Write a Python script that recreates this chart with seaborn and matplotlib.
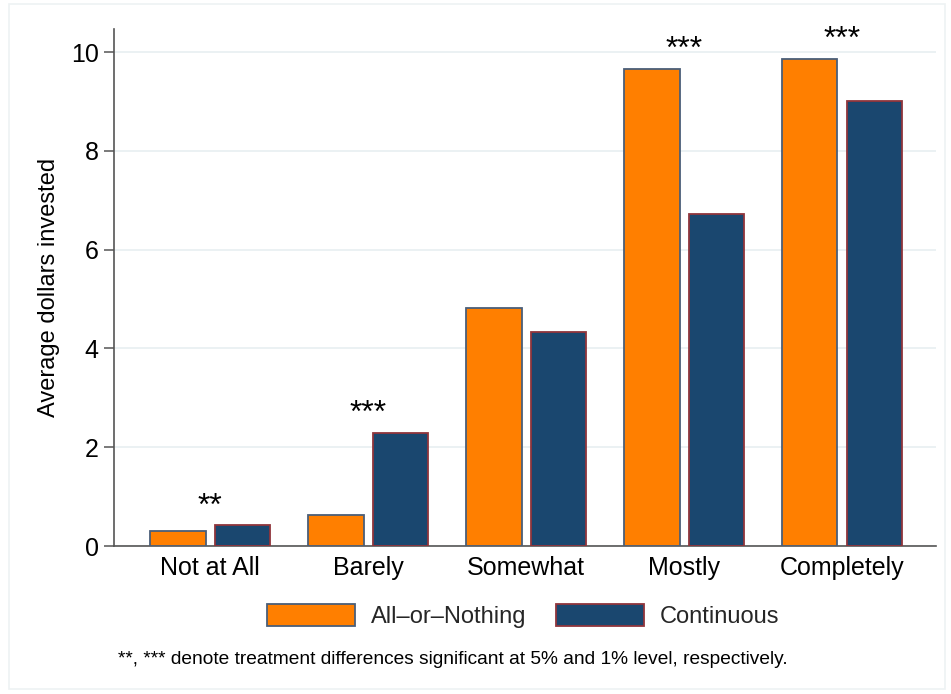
import matplotlib
matplotlib.use("Agg")
import matplotlib.pyplot as plt
from matplotlib.patches import Patch, Rectangle
import seaborn as sns
import pandas as pd

# Survey response categories and average investment by treatment
categories = ["Not at All", "Barely", "Somewhat", "Mostly", "Completely"]
all_or_nothing = [0.31, 0.63, 4.82, 9.66, 9.86]
continuous = [0.42, 2.29, 4.33, 6.72, 9.01]
significance = ["**", "***", "", "***", "***"]
treatments = ["All\u2013or\u2013Nothing", "Continuous"]
footnote = "**, *** denote treatment differences significant at 5% and 1% level, respectively."

fill_colors = ["#ff7f00", "#1a476f"]
edge_colors = ["#4a5e78", "#90353b"]

df = pd.DataFrame({
    "category": categories * 2,
    "value": all_or_nothing + continuous,
    "treatment": [treatments[0]] * len(categories) + [treatments[1]] * len(categories),
})

sns.set_theme(style="white")
plt.rcParams["font.family"] = ["Liberation Sans", "DejaVu Sans"]

fig = plt.figure(figsize=(9.51, 6.94), dpi=100)
ax = fig.add_axes([114 / 951, 1 - 546 / 694, (936 - 114) / 951, (546 - 29) / 694])

sns.barplot(data=df, x="category", y="value", hue="treatment", order=categories,
            hue_order=treatments, palette=fill_colors, width=0.816, gap=0.14,
            linewidth=1.3, saturation=1, legend=False, ax=ax, zorder=3)

for container, ec in zip(ax.containers, edge_colors):
    for bar in container:
        bar.set_edgecolor(ec)

# Significance markers above each pair
for i, (a, c, s) in enumerate(zip(all_or_nothing, continuous, significance)):
    if s:
        ax.text(i, max(a, c) + 0.38, s, ha="center", va="center", fontsize=23, color="black")

ax.set_xlim(-0.608, 4.595)
ax.set_ylim(0, 10.47)
ax.set_yticks([0, 2, 4, 6, 8, 10])
ax.set_yticklabels(["0", "2", "4", "6", "8", "10"])
ax.yaxis.grid(True, color="#e8eff1", linewidth=1.2, zorder=0)
ax.xaxis.grid(False)
ax.set_axisbelow(True)

for side in ["top", "right"]:
    ax.spines[side].set_visible(False)
for side in ["left", "bottom"]:
    ax.spines[side].set_color("#555555")
    ax.spines[side].set_linewidth(1.2)

ax.tick_params(axis="y", which="both", left=True, length=7.5, width=1.1, color="#555555",
               labelsize=18, pad=3.5, labelcolor="black")
ax.tick_params(axis="x", bottom=False, labelsize=18, pad=1.5, labelcolor="black")
ax.set_xlabel("")
ax.set_ylabel("Average dollars invested", fontsize=17, labelpad=8, color="black")

handles = [Patch(facecolor=f, edgecolor=e, linewidth=1.3) for f, e in zip(fill_colors, edge_colors)]
fig.legend(handles, treatments, loc="center", bbox_to_anchor=(523 / 951, 1 - 616 / 694),
           ncol=2, frameon=False, fontsize=17, handlelength=3.73, handleheight=1.02,
           handletextpad=0.68, columnspacing=1.23)

fig.text(118 / 951, 1 - 660 / 694, footnote, fontsize=13.8, ha="left", va="center", color="black")

# Light outer frame around the graph region
fig.patches.append(Rectangle((9 / 951, 5 / 694), (945 - 9) / 951, (690 - 5) / 694,
                             transform=fig.transFigure, fill=False,
                             edgecolor="#eef2f3", linewidth=1.2))

fig.savefig("out.png", dpi=100, facecolor="white")
